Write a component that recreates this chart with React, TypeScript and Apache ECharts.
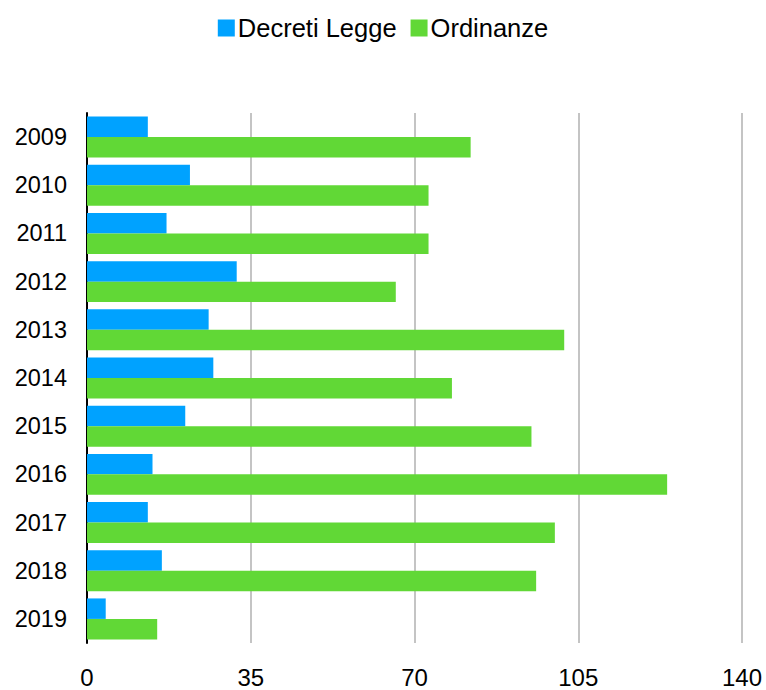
import React, { useEffect, useRef } from "react";
import * as echarts from "echarts";

const categories = ["2009", "2010", "2011", "2012", "2013", "2014", "2015", "2016", "2017", "2018", "2019"];
const decretiLegge = [13, 22, 17, 32, 26, 27, 21, 14, 13, 16, 4];
const ordinanze = [82, 73, 73, 66, 102, 78, 95, 124, 100, 96, 15];
const seriesNames = ["Decreti Legge", "Ordinanze"];
const colors = ["#00A2FF", "#61D836"];

export default function App() {
  const ref = useRef<HTMLDivElement>(null);
  useEffect(() => {
    document.body.style.margin = "0";
    if (!ref.current) return;
    const chart = echarts.init(ref.current, null, { renderer: "svg" });
    const font = "'Liberation Sans', Arial, Helvetica, sans-serif";
    chart.setOption({
      animation: false,
      color: colors,
      textStyle: { fontFamily: font },
      legend: {
        top: 10,
        left: "center",
        itemWidth: 17,
        itemHeight: 17,
        itemGap: 14,
        icon: "rect",
        textStyle: { fontSize: 25.5, color: "#000", fontFamily: font, padding: [0, 0, 0, -2] },
        data: seriesNames,
      },
      grid: { left: 87, right: 24, top: 113, bottom: 47, containLabel: false },
      xAxis: {
        type: "value",
        min: 0,
        max: 140,
        interval: 35,
        axisLine: { show: false },
        axisTick: { show: false },
        axisLabel: { fontSize: 24, color: "#000", margin: 22, fontFamily: font },
        splitLine: { show: true, lineStyle: { color: "#c4c4c4", width: 2 } },
      },
      yAxis: {
        type: "category",
        data: categories,
        inverse: true,
        axisLine: { show: true, lineStyle: { color: "#000", width: 2 } },
        axisTick: { show: false },
        axisLabel: { fontSize: 23.5, color: "#000", margin: 20, fontFamily: font },
        splitLine: { show: false },
      },
      series: [
        {
          name: seriesNames[0],
          type: "bar",
          data: decretiLegge,
          barGap: "0%",
          barCategoryGap: "15%",
          itemStyle: { color: colors[0] },
        },
        {
          name: seriesNames[1],
          type: "bar",
          data: ordinanze,
          barGap: "0%",
          barCategoryGap: "15%",
          itemStyle: { color: colors[1] },
        },
      ],
    });
    return () => chart.dispose();
  }, []);
  return <div ref={ref} style={{ width: 766, height: 690 }} />;
}
